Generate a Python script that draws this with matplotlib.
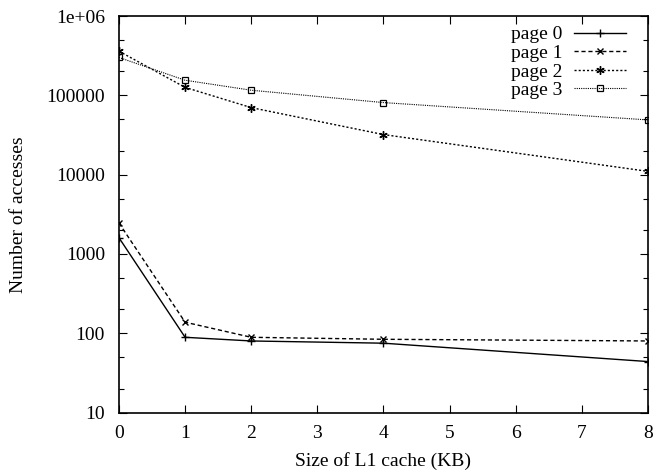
import numpy as np
import matplotlib
matplotlib.use('Agg')
import matplotlib.pyplot as plt
from matplotlib.ticker import FixedLocator, FixedFormatter

cache_kb = [0, 1, 2, 4, 8]
page_0 = [1600, 89, 80, 75, 44]
page_1 = [2450, 138, 89, 84, 80]
page_2 = [360000, 126000, 70000, 32000, 11000]
page_3 = [300000, 155000, 116000, 81000, 49000]
labels = ['page 0', 'page 1', 'page 2', 'page 3']
y_ticks = [10, 100, 1000, 10000, 100000, 1000000]
y_tick_labels = ['10', '100', '1000', '10000', '100000', '1e+06']

plt.rcParams['font.family'] = ['Liberation Serif', 'DejaVu Serif']
plt.rcParams['font.size'] = 14

fig = plt.figure(figsize=(6.53, 4.71), dpi=100)
ax = fig.add_axes([0.1822, 0.124, 0.8101, 0.842])

ax.plot(cache_kb, page_0, color='black', lw=1, ls='-', marker='+', ms=6, label=labels[0])
ax.plot(cache_kb, page_1, color='black', lw=1, ls=(0, (3, 2)), marker='x', ms=5, label=labels[1])
ax.plot(cache_kb, page_2, color='black', lw=1, ls=(0, (1.5, 1.5)), marker=(6, 2, 0), ms=6, label=labels[2])
ax.plot(cache_kb, page_3, color='black', lw=0.8, ls=(0, (1, 1)), marker='s', ms=5,
        mfc='none', mew=0.9, label=labels[3])

ax.set_yscale('log')
ax.set_xlim(0, 8)
ax.set_ylim(10, 1e6)
ax.yaxis.set_major_locator(FixedLocator(y_ticks))
ax.yaxis.set_major_formatter(FixedFormatter(y_tick_labels))
minor = [m * 10 ** e for e in range(1, 6) for m in (2, 5)]
ax.yaxis.set_minor_locator(FixedLocator(minor))
ax.set_xticks(range(0, 9))

ax.tick_params(which='both', direction='in', top=True, right=True, labelsize=14)
ax.tick_params(which='major', length=5.5, width=0.8)
ax.tick_params(axis='y', which='major', pad=10)
ax.tick_params(axis='x', which='major', pad=9)
ax.tick_params(which='minor', length=3.5, width=0.8)
for s in ax.spines.values():
    s.set_linewidth(1.2)

ax.set_xlabel('Size of L1 cache (KB)', fontsize=14, labelpad=7)
ax.set_ylabel('Number of accesses', fontsize=14, labelpad=14)

ax.legend(loc='upper right', bbox_to_anchor=(0.97, 0.99), frameon=False,
          markerfirst=False, fontsize=14, handlelength=2.7, handletextpad=0.6,
          labelspacing=0.05, borderaxespad=0.0, borderpad=0.3)

fig.savefig('out.png', dpi=100)
